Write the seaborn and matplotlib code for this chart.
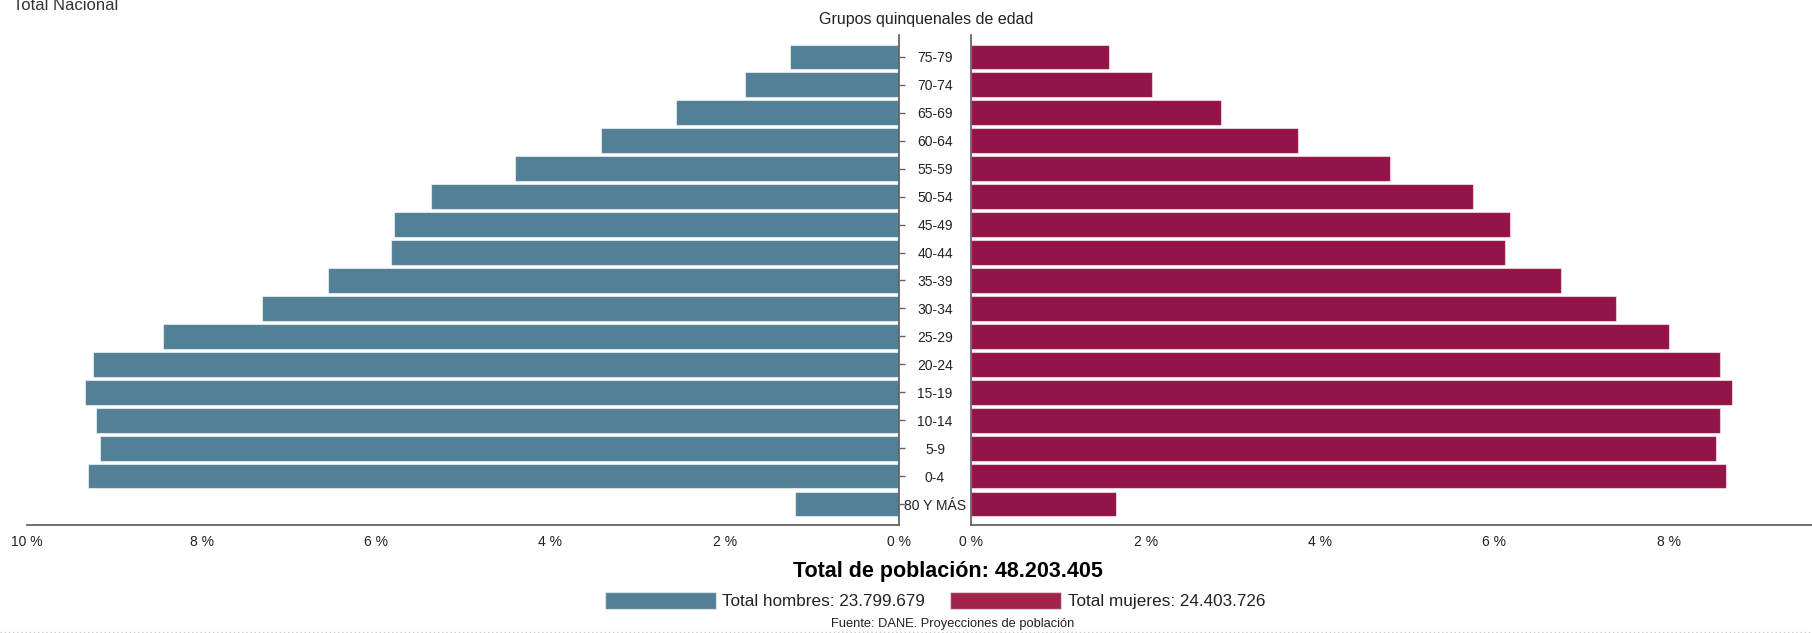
import matplotlib
matplotlib.use("Agg")
import matplotlib.pyplot as plt
from matplotlib.patches import Patch
from matplotlib.lines import Line2D
import seaborn as sns
import pandas as pd

# ---------------- data ----------------
grupos = ["75-79", "70-74", "65-69", "60-64", "55-59", "50-54", "45-49", "40-44",
          "35-39", "30-34", "25-29", "20-24", "15-19", "10-14", "5-9", "0-4", "80 Y MÁS"]
hombres = [1.25, 1.77, 2.56, 3.42, 4.41, 5.37, 5.79, 5.83, 6.55, 7.31, 8.44, 9.24,
           9.34, 9.21, 9.16, 9.30, 1.19]
mujeres = [1.58, 2.07, 2.86, 3.75, 4.80, 5.75, 6.18, 6.12, 6.76, 7.39, 8.00, 8.59,
           8.72, 8.59, 8.54, 8.65, 1.66]
ticks_izq = [0, 2, 4, 6, 8, 10]
ticks_der = [0, 2, 4, 6, 8]
titulo_grupos = "Grupos quinquenales de edad"
titulo_total = "Total de población: 48.203.405"
etiqueta_h = "Total hombres: 23.799.679"
etiqueta_m = "Total mujeres: 24.403.726"
fuente = "Fuente: DANE. Proyecciones de población"
encabezado = "Total Nacional"

# ---------------- style ----------------
sns.set_style("white")
REG = ["Liberation Sans", "DejaVu Sans"]
plt.rcParams["font.family"] = REG

AZUL = "#528096"
ROJO = "#921448"
ROJO_LEY = "#9e2549"
SPINE = "#666666"
TXT = "#222222"

W, H = 1812, 633
fig = plt.figure(figsize=(W / 100, H / 100), dpi=100)

def fx(px):
    return px / W

def fy(py):
    return 1 - py / H

ax_top, ax_bot = 35, 525
axL = fig.add_axes([fx(27.2), fy(ax_bot), fx(899 - 27.2), (ax_bot - ax_top) / H])
axR = fig.add_axes([fx(971.3), fy(ax_bot), fx(W - 971.3), (ax_bot - ax_top) / H])

dfh = pd.DataFrame({"grupo": grupos, "valor": hombres})
dfm = pd.DataFrame({"grupo": grupos, "valor": mujeres})

sns.barplot(data=dfh, x="valor", y="grupo", order=grupos, orient="h", ax=axL,
            color=AZUL, saturation=1, width=0.87,
            edgecolor=(1, 1, 1, 0.55), linewidth=0.8)
sns.barplot(data=dfm, x="valor", y="grupo", order=grupos, orient="h", ax=axR,
            color=ROJO, saturation=1, width=0.87,
            edgecolor=(1, 1, 1, 0.55), linewidth=0.8)

n = len(grupos)
for ax in (axL, axR):
    ax.set_ylim(n - 1 + 0.74, -0.775)
    ax.set_xlabel("")
    ax.set_ylabel("")
    ax.grid(False)
    ax.set_facecolor("none")

axL.set_xlim(10, 0)
axR.set_xlim(0, (W - 971.3) / 87.2)

# spines
for s in ("top", "left"):
    axL.spines[s].set_visible(False)
for s in ("top", "right"):
    axR.spines[s].set_visible(False)
for ax, sides in ((axL, ("right", "bottom")), (axR, ("left", "bottom"))):
    for s in sides:
        ax.spines[s].set_color(SPINE)
        ax.spines[s].set_linewidth(1.3)

# x ticks
axL.set_xticks(ticks_izq)
axL.set_xticklabels([f"{t} %" for t in ticks_izq])
axR.set_xticks(ticks_der)
axR.set_xticklabels([f"{t} %" for t in ticks_der])
for ax in (axL, axR):
    ax.tick_params(axis="x", direction="out", length=3.6, width=1, color=SPINE,
                   labelcolor=TXT, labelsize=10, pad=3.4)

# y ticks
axL.yaxis.tick_right()
axL.tick_params(axis="y", direction="out", length=4.3, width=1, color=SPINE,
                labelright=False, labelleft=False)
axR.tick_params(axis="y", direction="out", length=3.1, width=1, color=SPINE,
                labelcolor=TXT, labelsize=10, pad=23)
axR.set_yticks(range(n))
axR.set_yticklabels(grupos)
for lbl in axR.get_yticklabels():
    lbl.set_ha("center")

# texts
fig.text(fx(13), fy(9.5), encabezado, ha="left", va="baseline", fontsize=12,
         color="#333333")
fig.text(fx(926), fy(24), titulo_grupos, ha="center", va="baseline", fontsize=11.5,
         color=TXT)
fig.text(fx(947.5), fy(577), titulo_total, ha="center", va="baseline", fontsize=15.5,
         fontweight="bold", color="#000000")
fig.text(fx(952.5), fy(627.5), fuente, ha="center", va="baseline", fontsize=9.3,
         color=TXT)

handles = [Patch(facecolor=AZUL, edgecolor=(1, 1, 1, 0.5), label=etiqueta_h),
           Patch(facecolor=ROJO_LEY, edgecolor=(1, 1, 1, 0.5), label=etiqueta_m)]
leg = fig.legend(handles=handles, loc="center", bbox_to_anchor=(fx(935), fy(600.5)),
                 ncol=2, frameon=False, handlelength=6.5, handleheight=1.2,
                 handletextpad=0.4, columnspacing=1.45, borderpad=0, borderaxespad=0,
                 prop={"size": 12.3})
for t in leg.get_texts():
    t.set_color(TXT)

fig.add_artist(Line2D([0, 1], [fy(631.5), fy(631.5)], transform=fig.transFigure,
                      color="#cccccc", linewidth=1, linestyle=(0, (1, 2))))

fig.savefig("out.png", dpi=100)
